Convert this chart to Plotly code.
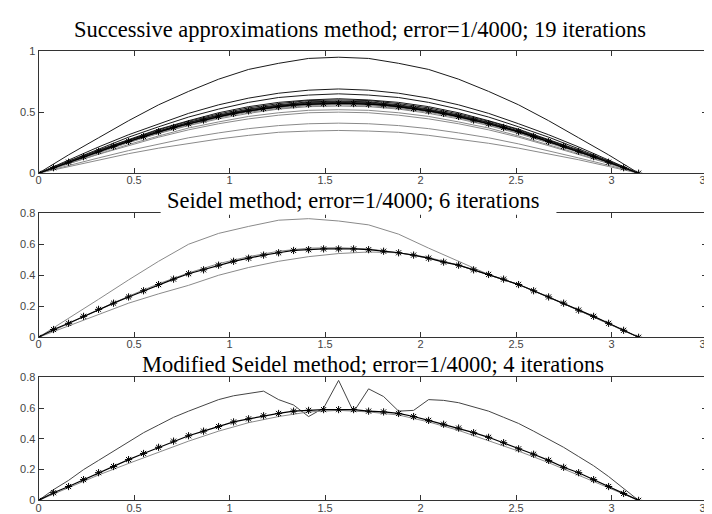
import numpy as np
import plotly.graph_objects as go

PI = np.pi
x21 = np.linspace(0, PI, 21)
x41 = np.linspace(0, PI, 41)

x_ticks = [0, 0.5, 1, 1.5, 2, 2.5, 3, 3.5]
x_tick_labels = ["0", "0.5", "1", "1.5", "2", "2.5", "3", "3.5"]
y1_ticks = [0, 0.5, 1]
y1_tick_labels = ["0", "0.5", "1"]
y23_ticks = [0, 0.2, 0.4, 0.6, 0.8]
y23_tick_labels = ["0", "0.2", "0.4", "0.6", "0.8"]

titles = [
    "Successive approximations method; error=1/4000; 19 iterations",
    "Seidel method; error=1/4000; 6 iterations",
    "Modified Seidel method; error=1/4000; 4 iterations",
]

# ---- Successive approximations: iterations (21-point grid) ----
sa_iters = [
    [0, .15, .29, .43, .56, .67, .77, .85, .90, .94, .95, .94, .90, .85, .77, .67, .56, .43, .29, .15, 0],
    [0, .055, .11, .16, .205, .245, .28, .31, .335, .345, .35, .345, .335, .31, .28, .245, .205, .16, .11, .055, 0],
    [0, .11, .215, .315, .405, .49, .56, .615, .655, .68, .69, .68, .655, .615, .56, .49, .405, .315, .215, .11, 0],
    [0, .065, .125, .185, .24, .29, .33, .365, .39, .405, .41, .405, .39, .365, .33, .29, .24, .185, .125, .065, 0],
    [0, .10, .20, .295, .38, .46, .525, .58, .62, .64, .65, .64, .62, .58, .525, .46, .38, .295, .20, .10, 0],
    [0, .08, .155, .225, .295, .355, .405, .445, .475, .495, .50, .495, .475, .445, .405, .355, .295, .225, .155, .08, 0],
    [0, .095, .19, .275, .36, .43, .495, .545, .58, .60, .61, .60, .58, .545, .495, .43, .36, .275, .19, .095, 0],
    [0, .08, .16, .235, .305, .37, .42, .465, .495, .515, .52, .515, .495, .465, .42, .37, .305, .235, .16, .08, 0],
    [0, .095, .185, .27, .355, .425, .485, .535, .57, .595, .60, .595, .57, .535, .485, .425, .355, .27, .185, .095, 0],
    [0, .085, .17, .25, .325, .39, .445, .49, .525, .545, .55, .545, .525, .49, .445, .39, .325, .25, .17, .085, 0],
    [0, .09, .18, .27, .345, .415, .475, .525, .56, .585, .59, .585, .56, .525, .475, .415, .345, .27, .18, .09, 0],
    [0, .085, .175, .255, .33, .395, .455, .50, .53, .555, .56, .555, .53, .50, .455, .395, .33, .255, .175, .085, 0],
    [0, .09, .18, .265, .345, .415, .475, .52, .555, .58, .585, .58, .555, .52, .475, .415, .345, .265, .18, .09, 0],
    [0, .09, .175, .255, .33, .40, .455, .505, .535, .56, .565, .56, .535, .505, .455, .40, .33, .255, .175, .09, 0],
    [0, .09, .18, .265, .34, .41, .47, .515, .55, .575, .58, .575, .55, .515, .47, .41, .34, .265, .18, .09, 0],
    [0, .09, .175, .26, .335, .405, .46, .51, .54, .565, .57, .565, .54, .51, .46, .405, .335, .26, .175, .09, 0],
    [0, .09, .18, .26, .34, .405, .465, .51, .545, .57, .575, .57, .545, .51, .465, .405, .34, .26, .18, .09, 0],
    [0, .09, .178, .26, .337, .405, .463, .51, .543, .567, .572, .567, .543, .51, .463, .405, .337, .26, .178, .09, 0],
    [0, .09, .178, .26, .338, .405, .464, .51, .544, .568, .573, .568, .544, .51, .464, .405, .338, .26, .178, .09, 0],
]
sa_final = [0, .045, .09, .135, .18, .22, .26, .30, .34, .375, .405, .435, .465, .49, .51, .53, .545, .56, .565, .57, .572,
            .57, .565, .56, .545, .53, .51, .49, .465, .435, .405, .375, .34, .30, .26, .22, .18, .135, .09, .045, 0]

# ---- Seidel ----
sd_first = [0, .12, .245, .37, .49, .60, .67, .715, .755, .765, .75, .725, .665, .575, .49, .405, .34, .26, .175, .09, 0]
sd_second = [0, .075, .15, .22, .28, .335, .40, .45, .49, .52, .54, .55, .545, .515, .465, .405, .34, .26, .175, .09, 0]
sd_prev = [0, .09, .18, .265, .345, .415, .475, .52, .555, .575, .578, .57, .545, .51, .465, .405, .34, .26, .175, .09, 0]
sd_final = [0, .05, .09, .135, .18, .22, .26, .30, .34, .375, .41, .435, .465, .49, .51, .53, .545, .56, .565, .57, .57,
            .57, .565, .555, .545, .53, .51, .485, .465, .435, .405, .375, .34, .30, .26, .22, .175, .135, .09, .045, 0]

# ---- Modified Seidel ----
ms_first = [0, .07, .13, .20, .26, .32, .38, .44, .49, .54, .58, .615, .655, .68, .695, .71, .655, .62, .545, .60, .78,
            .575, .725, .675, .58, .585, .655, .65, .635, .61, .58, .54, .50, .45, .40, .345, .285, .225, .155, .08, 0]
ms_prev = [0, .085, .165, .24, .315, .385, .45, .505, .545, .575, .585, .575, .555, .51, .455, .39, .32, .245, .165, .085, 0]
ms_final = [0, .05, .09, .135, .18, .22, .265, .305, .345, .385, .42, .45, .48, .51, .53, .55, .565, .58, .585, .59, .59,
            .59, .58, .575, .565, .545, .52, .495, .47, .44, .41, .375, .335, .30, .26, .215, .18, .135, .09, .045, 0]

fig = go.Figure()

DARK = "#1a1a1a"
GREY = "#8a8a8a"

def line(x, y, ax, color, width=1.0, marker=None):
    kw = dict(x=x, y=y, mode="lines", xaxis="x" + ax, yaxis="y" + ax,
              line=dict(color=color, width=width), showlegend=False, hoverinfo="skip")
    if marker:
        kw["mode"] = "lines+markers"
        kw["marker"] = marker
    fig.add_trace(go.Scatter(**kw))

star = dict(symbol="asterisk-open", size=6, color="black", line=dict(color="black", width=1))

for i, it in enumerate(sa_iters):
    line(x21, it, "", DARK if i % 2 == 0 else GREY)
line(x41, sa_final, "", "black", 1.2, star)

line(x21, sd_first, "2", GREY)
line(x21, sd_second, "2", GREY)
line(x21, sd_prev, "2", GREY, 1.0)
line(x41, sd_final, "2", "black", 1.2, star)

line(x41, ms_first, "3", "#444444")
line(x21, ms_prev, "3", GREY)
line(x41, ms_final, "3", "black", 1.2, star)

W, H = 712, 514

def ydom(top_px, bot_px):
    return [1 - bot_px / H, 1 - top_px / H]

xdom = [28 / W, 707 / W]
tickfont = dict(family="Liberation Sans, Arial, sans-serif", size=11, color="#444444")
common_x = dict(range=[0, 3.5], tickvals=x_ticks, ticktext=x_tick_labels, ticks="inside", ticklen=5,
                tickcolor="#333333", mirror="ticks", showline=True, linecolor="#333333", linewidth=1,
                showgrid=False, zeroline=False, tickfont=tickfont, domain=xdom, fixedrange=True,
                ticklabeloverflow="allow", ticklabelstandoff=-3)
common_y = dict(ticks="inside", ticklen=5, tickcolor="#333333", mirror="ticks", showline=True,
                linecolor="#333333", linewidth=1, showgrid=False, zeroline=False, tickfont=tickfont,
                fixedrange=True, ticklabeloverflow="allow")

fig.update_layout(
    width=W, height=H, margin=dict(l=0, r=0, t=0, b=0),
    paper_bgcolor="white", plot_bgcolor="white",
    xaxis=dict(**common_x, anchor="y"),
    yaxis=dict(**common_y, range=[0, 1], tickvals=y1_ticks, ticktext=y1_tick_labels,
               domain=ydom(38, 163), anchor="x"),
    xaxis2=dict(**common_x, anchor="y2"),
    yaxis2=dict(**common_y, range=[0, 0.8], tickvals=y23_ticks, ticktext=y23_tick_labels,
                domain=ydom(204, 331), anchor="x2"),
    xaxis3=dict(**common_x, anchor="y3"),
    yaxis3=dict(**common_y, range=[0, 0.8], tickvals=y23_ticks, ticktext=y23_tick_labels,
                domain=ydom(372, 498), anchor="x3"),
)

# white gap in the top border of the second panel, behind its title
fig.add_shape(type="rect", xref="paper", yref="paper", layer="above",
              x0=152 / W, x1=554 / W, y0=1 - 205.5 / H, y1=1 - 202.5 / H,
              fillcolor="white", line=dict(width=0))

title_font = dict(family="Liberation Serif, Times New Roman, serif", size=22.5, color="black")
title_pos = [(354, 15.5), (348, 190.5), (368, 358.5)]
for t, (px, py) in zip(titles, title_pos):
    fig.add_annotation(text=t, x=px / W, y=1 - py / H, xref="paper", yref="paper",
                       xanchor="center", yanchor="middle", showarrow=False, font=title_font,
                       borderpad=0)

fig.write_html("out.html")
